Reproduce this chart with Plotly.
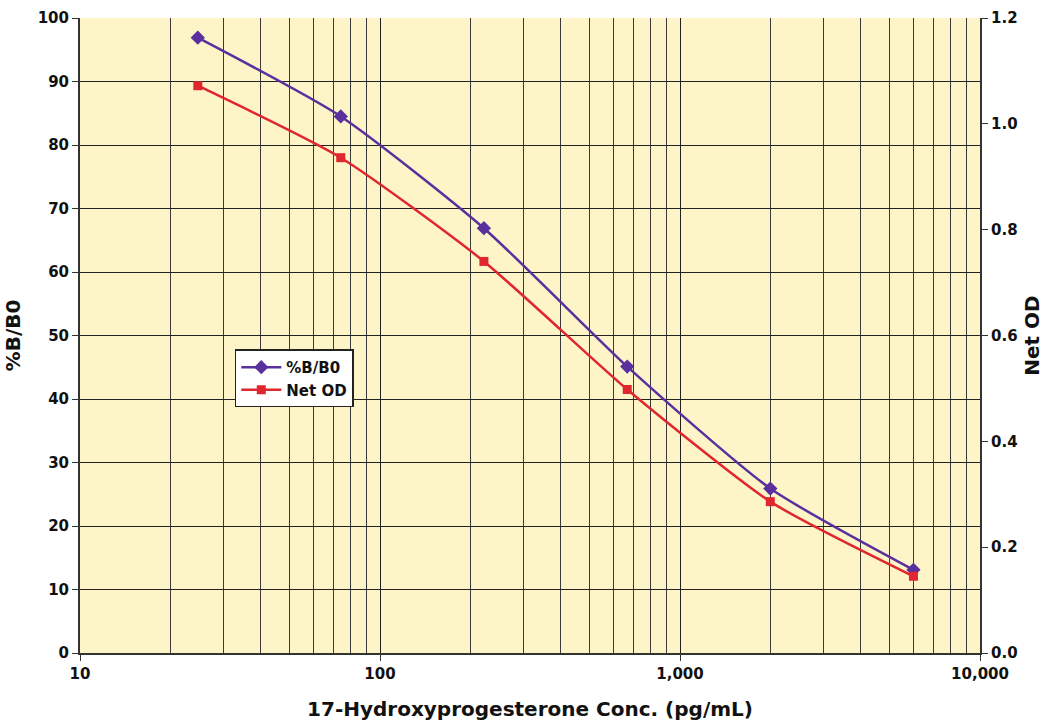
import plotly.graph_objects as go

conc = [24.7, 74, 222, 667, 2000, 6000]
b_b0 = [96.9, 84.5, 66.9, 45.1, 25.9, 13.1]
net_od = [1.072, 0.936, 0.740, 0.498, 0.286, 0.145]

x_tick_vals = [10, 100, 1000, 10000]
x_tick_text = ["10", "100", "1,000", "10,000"]

purple = "#5A2F9E"
red = "#E0262F"
font_family = "DejaVu Sans, sans-serif"

fig = go.Figure()
fig.add_trace(go.Scatter(
    x=conc, y=b_b0, name="%B/B0", mode="lines+markers",
    line=dict(color=purple, width=2.5, shape="spline", smoothing=0.6),
    marker=dict(symbol="diamond", size=11, color=purple),
    yaxis="y"))
fig.add_trace(go.Scatter(
    x=conc, y=net_od, name="Net OD", mode="lines+markers",
    line=dict(color=red, width=2.5, shape="spline", smoothing=0.6),
    marker=dict(symbol="square", size=9, color=red),
    yaxis="y2"))

fig.update_layout(
    width=1050, height=723,
    margin=dict(l=80, r=70, t=18, b=70, autoexpand=False),
    paper_bgcolor="white",
    plot_bgcolor="#FDF4C8",
    font=dict(family=font_family, size=15, color="#111111", weight="bold"),
    xaxis=dict(
        type="log", range=[1, 4],
        tickvals=x_tick_vals, ticktext=x_tick_text,
        showgrid=True, gridcolor="#222222", gridwidth=1,
        minor=dict(dtick="D1", showgrid=True, gridcolor="#3a3a3a", gridwidth=1, ticks=""),
        ticks="outside", ticklen=6, tickcolor="#333333",
        showline=True, linecolor="#333333", linewidth=2,
        title=dict(text="17-Hydroxyprogesterone Conc. (pg/mL)", font=dict(size=20, weight="bold"), standoff=20),
        tickfont=dict(size=15), automargin=False,
    ),
    yaxis=dict(
        range=[0, 100], dtick=10,
        showgrid=True, gridcolor="#222222", gridwidth=1,
        ticks="outside", ticklen=6, tickcolor="#333333",
        showline=True, linecolor="#333333", linewidth=2,
        zeroline=False,
        title=dict(text="%B/B0", font=dict(size=20, weight="bold"), standoff=12),
        tickfont=dict(size=15), automargin=False,
    ),
    yaxis2=dict(
        range=[0, 1.2], dtick=0.2, tickformat=".1f",
        overlaying="y", side="right",
        showgrid=False, zeroline=False,
        ticks="outside", ticklen=6, tickcolor="#333333",
        showline=True, linecolor="#333333", linewidth=2,
        title=dict(text="Net OD", font=dict(size=20, weight="bold"), standoff=8),
        tickfont=dict(size=15), automargin=False,
    ),
    legend=dict(
        x=0.172, y=0.478, xanchor="left", yanchor="top",
        bgcolor="white", bordercolor="#222222", borderwidth=1.5,
        font=dict(size=15), tracegroupgap=0, itemwidth=40,
    ),
    showlegend=True,
)

fig.write_html("out.html", config={"displayModeBar": False},
               post_script="document.body.style.margin='0';")
